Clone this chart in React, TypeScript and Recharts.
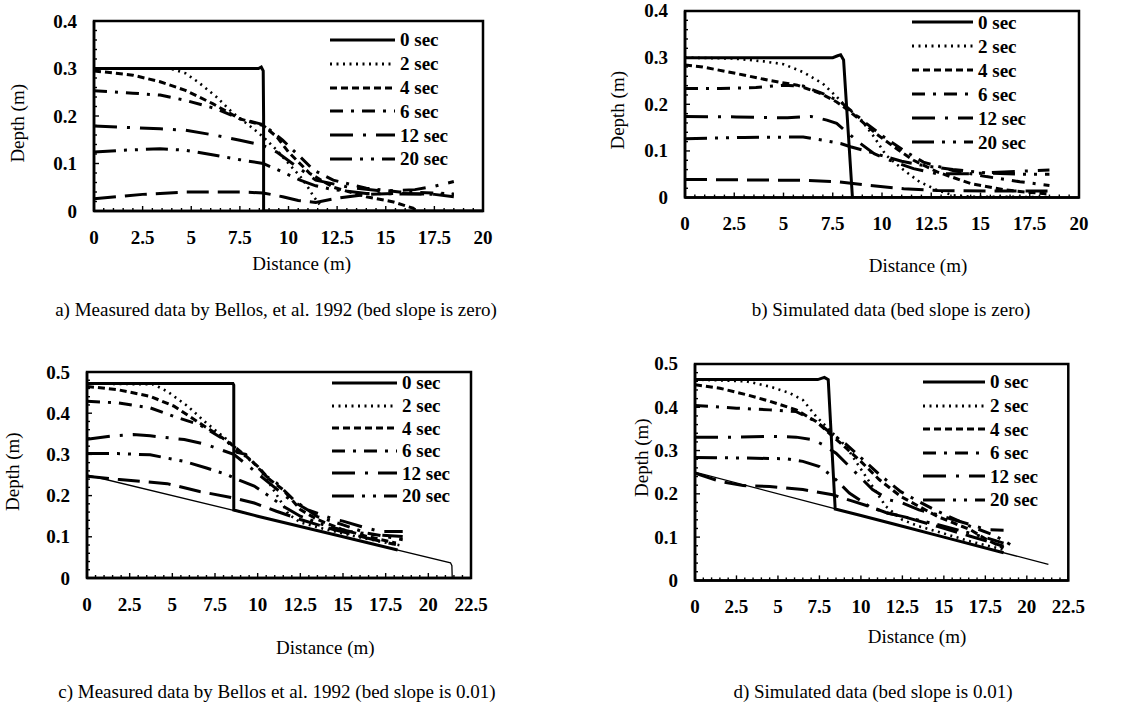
import React from "react";
import { LineChart, Line, XAxis, YAxis, ReferenceArea, Legend } from "recharts";

type Pair = [number, number];

const FONT = '"Liberation Serif", "Times New Roman", Times, serif';

// legend entries, in legend order
const seriesNames = ["0 sec", "2 sec", "4 sec", "6 sec", "12 sec", "20 sec"];

// major tick labels
const xMajor20 = [0, 2.5, 5, 7.5, 10, 12.5, 15, 17.5, 20];
const xMajor225 = [0, 2.5, 5, 7.5, 10, 12.5, 15, 17.5, 20, 22.5];
const yMajor04 = [0, 0.1, 0.2, 0.3, 0.4];
const yMajor05 = [0, 0.1, 0.2, 0.3, 0.4, 0.5];
const X_MINOR_STEP = 0.5;
const Y_MINOR_STEP = 0.02;

// ---- a) measured, bed slope zero ----
const aSec0: Pair[] = [[0, 0.3], [8.45, 0.3], [8.6, 0.303], [8.7, 0.295], [8.72, 0.2], [8.72, 0], [20, 0]];
const aSec2: Pair[] = [[0, 0.3], [3.9, 0.3], [4.7, 0.29], [5.4, 0.27], [6.3, 0.24], [7.1, 0.208], [8.2, 0.173], [8.7, 0.156], [9.4, 0.128], [10, 0.1], [10.6, 0.073], [11, 0.05], [11.3, 0.03], [11.6, 0.014]];
const aSec4: Pair[] = [[0, 0.295], [2, 0.286], [3.4, 0.272], [4.7, 0.254], [6.1, 0.226], [7.5, 0.194], [8.7, 0.18], [9.4, 0.156], [10, 0.124], [11.1, 0.079], [12.3, 0.05], [14, 0.03], [15.4, 0.019], [16.4, 0.006], [16.6, 0]];
const aSec6: Pair[] = [[0, 0.253], [2, 0.248], [3.4, 0.244], [4.7, 0.233], [6.3, 0.215], [7.5, 0.194], [8.7, 0.182], [9.7, 0.149], [10.6, 0.114], [11.3, 0.086], [12.3, 0.065], [14, 0.048], [15.7, 0.04], [17.4, 0.038], [18.5, 0.036]];
const aSec12: Pair[] = [[0, 0.179], [3.4, 0.173], [4.7, 0.17], [6.3, 0.159], [7.5, 0.149], [8.7, 0.138], [9.4, 0.124], [10.2, 0.1], [11.4, 0.065], [13.1, 0.05], [14.8, 0.042], [16.5, 0.045], [17.5, 0.052], [18.5, 0.062]];
const aSec20: Pair[] = [[0, 0.124], [1.5, 0.128], [3.4, 0.131], [4.7, 0.128], [6.3, 0.117], [7.5, 0.108], [8.7, 0.1], [9.7, 0.082], [10.6, 0.065], [11.4, 0.053], [12.3, 0.045], [14, 0.037], [15.7, 0.036], [18.5, 0.035]];
const aLate: Pair[] = [[0, 0.026], [2.5, 0.035], [4.7, 0.04], [7.5, 0.04], [8.7, 0.038], [9.7, 0.03], [10.5, 0.022], [11.4, 0.018], [12.5, 0.027], [14, 0.035], [15.7, 0.037], [17.5, 0.035], [18.5, 0.03]];

// ---- b) simulated, bed slope zero ----
const bSec0: Pair[] = [[0, 0.3], [7.5, 0.3], [7.75, 0.304], [7.9, 0.306], [8.05, 0.295], [8.5, 0], [18.5, 0]];
const bSec2: Pair[] = [[0, 0.3], [2.5, 0.298], [4, 0.292], [5, 0.286], [6, 0.269], [7, 0.244], [7.7, 0.216], [8.2, 0.194], [8.9, 0.169], [9.6, 0.13], [10.2, 0.091], [11.1, 0.059], [11.9, 0.034], [12.8, 0.016], [13.6, 0.005], [14.5, 0.002], [18.5, 0.001]];
const bSec4: Pair[] = [[0, 0.284], [0.9, 0.28], [2.6, 0.266], [4.3, 0.251], [5.7, 0.241], [6.9, 0.223], [7.7, 0.205], [8.2, 0.19], [8.9, 0.166], [9.7, 0.137], [10.6, 0.109], [11.6, 0.08], [12.8, 0.055], [14.5, 0.03], [16.2, 0.017], [17.5, 0.011], [18.5, 0.008]];
const bSec6: Pair[] = [[0, 0.234], [1.8, 0.234], [3.6, 0.236], [5, 0.241], [6, 0.239], [7, 0.223], [7.9, 0.205], [8.5, 0.184], [9.2, 0.159], [10.1, 0.13], [11.1, 0.101], [12.1, 0.076], [13.6, 0.058], [15.3, 0.045], [17, 0.034], [18.5, 0.026]];
const bSec12: Pair[] = [[0, 0.174], [2.6, 0.173], [5.2, 0.171], [6.4, 0.174], [7.2, 0.166], [7.7, 0.159], [8.2, 0.141], [8.9, 0.116], [9.6, 0.094], [10.4, 0.08], [11.6, 0.062], [12.8, 0.051], [14.5, 0.051], [16.2, 0.055], [18.5, 0.059]];
const bSec20: Pair[] = [[0, 0.126], [3, 0.129], [6, 0.13], [7, 0.123], [7.9, 0.116], [8.4, 0.109], [9.2, 0.1], [10, 0.09], [11, 0.078], [12.2, 0.068], [13.6, 0.06], [15.3, 0.053], [17, 0.05], [18.5, 0.05]];
const bLate: Pair[] = [[0, 0.039], [6, 0.037], [7.7, 0.034], [9.4, 0.026], [11.1, 0.019], [12.8, 0.015], [15.3, 0.014], [18.5, 0.014]];

// ---- c) measured, bed slope 0.01 ----
const cBed: Pair[] = [[0, 0.25], [21.3, 0.037], [21.38, 0.03], [21.4, 0]];
const cSec0: Pair[] = [[0, 0.472], [8.55, 0.472], [8.6, 0.468], [8.6, 0.165], [10, 0.15], [12.5, 0.125], [15, 0.1], [18.2, 0.068]];
const cSec2: Pair[] = [[0, 0.472], [3.9, 0.47], [4.7, 0.453], [5.9, 0.417], [7, 0.376], [8.2, 0.336], [8.6, 0.32], [9.4, 0.291], [10, 0.27], [10.6, 0.235], [11.3, 0.19], [11.8, 0.155], [12.5, 0.135], [14, 0.118], [15.5, 0.103], [17, 0.09], [18.5, 0.078]];
const cSec4: Pair[] = [[0, 0.465], [1.8, 0.457], [3.7, 0.441], [5.1, 0.417], [6.6, 0.376], [7.8, 0.344], [8.6, 0.32], [9.2, 0.3], [10, 0.271], [10.7, 0.239], [11.5, 0.214], [12.5, 0.166], [13.5, 0.142], [15, 0.117], [16.4, 0.101], [18.1, 0.085]];
const cSec6: Pair[] = [[0, 0.429], [1.8, 0.425], [3.7, 0.413], [5.1, 0.392], [6.6, 0.372], [8.2, 0.332], [8.8, 0.305], [9.3, 0.3], [10.5, 0.247], [11.1, 0.231], [12.1, 0.19], [13.5, 0.149], [15, 0.129], [16.4, 0.109], [18.5, 0.093]];
const cSec12: Pair[] = [[0, 0.337], [1.5, 0.345], [2.7, 0.348], [3.7, 0.345], [5.7, 0.336], [7, 0.324], [8.6, 0.3], [9.6, 0.267], [10.9, 0.223], [11.9, 0.19], [12.9, 0.166], [14.5, 0.142], [15, 0.138], [16.4, 0.121], [17.2, 0.113], [18.5, 0.113]];
const cSec20: Pair[] = [[0, 0.302], [1.8, 0.302], [3.7, 0.299], [5.7, 0.283], [7, 0.267], [8.2, 0.251], [8.6, 0.243], [9.8, 0.223], [10.7, 0.198], [11.5, 0.174], [12.5, 0.15], [14.1, 0.125], [15.4, 0.113], [16.8, 0.105], [18.5, 0.101]];
const cLate: Pair[] = [[0, 0.247], [1.9, 0.239], [4.7, 0.229], [6.6, 0.21], [8.6, 0.194], [9.8, 0.182], [11.1, 0.162], [12.5, 0.142], [14.5, 0.117], [16.4, 0.097], [18.1, 0.081]];

// ---- d) simulated, bed slope 0.01 ----
const dBed: Pair[] = [[0, 0.25], [21.3, 0.037]];
const dSec0: Pair[] = [[0, 0.464], [7.4, 0.464], [7.8, 0.469], [8.03, 0.464], [8.45, 0.165], [10, 0.15], [12.5, 0.125], [15, 0.1], [18.6, 0.064]];
const dSec2: Pair[] = [[0, 0.464], [3.1, 0.46], [4.5, 0.448], [5.7, 0.433], [6.5, 0.417], [7.3, 0.379], [8.1, 0.348], [9.1, 0.31], [9.9, 0.263], [10.7, 0.217], [11.5, 0.171], [12.5, 0.14], [13.5, 0.125], [14.6, 0.113], [16.6, 0.09], [18.6, 0.071]];
const dSec4: Pair[] = [[0, 0.452], [1.5, 0.444], [3.1, 0.429], [4.5, 0.414], [6.1, 0.394], [7.3, 0.367], [8.3, 0.333], [9.1, 0.306], [10.1, 0.271], [11.1, 0.233], [12.4, 0.194], [13.5, 0.171], [14.6, 0.148], [16.6, 0.117], [17.6, 0.094], [18.6, 0.075]];
const dSec6: Pair[] = [[0, 0.404], [2.5, 0.398], [4.5, 0.394], [6.1, 0.39], [7.3, 0.367], [8.3, 0.337], [9.1, 0.315], [10.1, 0.28], [11.1, 0.245], [12.4, 0.205], [13.5, 0.182], [14.6, 0.16], [16.6, 0.125], [18, 0.105], [19, 0.083]];
const dSec12: Pair[] = [[0, 0.331], [2.5, 0.331], [4.5, 0.333], [6.1, 0.331], [7.1, 0.325], [7.7, 0.314], [8.5, 0.294], [9.5, 0.256], [10.7, 0.21], [11.7, 0.186], [12.5, 0.179], [13.5, 0.163], [14.6, 0.152], [15.6, 0.14], [16.6, 0.129], [17.6, 0.117], [18.6, 0.116]];
const dSec20: Pair[] = [[0, 0.284], [2.5, 0.283], [5.5, 0.281], [6.5, 0.275], [7.5, 0.263], [8.3, 0.24], [9.3, 0.202], [10.5, 0.171], [11.5, 0.156], [12.5, 0.148], [14.6, 0.129], [16.6, 0.109], [17.6, 0.098], [18.6, 0.086]];
const dLate: Pair[] = [[0, 0.248], [1.5, 0.229], [2.9, 0.219], [4.5, 0.217], [6.5, 0.21], [8.3, 0.198], [9.5, 0.183], [10.5, 0.171], [11.5, 0.157], [12.5, 0.148], [14.6, 0.125], [16.6, 0.102], [18.6, 0.079]];

const lineStyles: Record<string, { dash?: string; width: number }> = {
  "0 sec": { width: 3 },
  "2 sec": { dash: "2 4.5", width: 2.6 },
  "4 sec": { dash: "7 4", width: 3 },
  "6 sec": { dash: "13 8 3 8", width: 3 },
  "12 sec": { dash: "23 10 3 10", width: 3 },
  "20 sec": { dash: "22 8 3 8 3 8", width: 3 },
};
const LATE_DASH = "22 9";

interface PanelCfg {
  left: number; // plot box, page coords
  top: number;
  w: number;
  h: number;
  xMajor: number[];
  yMajor: number[];
  series: Pair[][];
  late: Pair[];
  bed?: Pair[];
  legend: { x: number; y: number; rowH: number; lineLen: number };
  xTitle: [number, number];
  yTitle: [number, number];
  caption: string;
  capPos: [number, number];
}

const panels: PanelCfg[] = [
  {
    left: 94.3, top: 20.7, w: 389, h: 190, xMajor: xMajor20, yMajor: yMajor04,
    series: [aSec0, aSec2, aSec4, aSec6, aSec12, aSec20], late: aLate,
    legend: { x: 330, y: 40, rowH: 23.8, lineLen: 65 },
    xTitle: [302, 263], yTitle: [18, 123],
    caption: "a) Measured data by Bellos, et al. 1992 (bed slope is zero)", capPos: [276, 310],
  },
  {
    left: 685, top: 10.7, w: 394, h: 186.6, xMajor: xMajor20, yMajor: yMajor04,
    series: [bSec0, bSec2, bSec4, bSec6, bSec12, bSec20], late: bLate,
    legend: { x: 912, y: 22, rowH: 24, lineLen: 61 },
    xTitle: [918, 265], yTitle: [617, 110],
    caption: "b) Simulated data (bed slope is zero)", capPos: [891, 310],
  },
  {
    left: 86.7, top: 372.3, w: 384, h: 206, xMajor: xMajor225, yMajor: yMajor05,
    series: [cSec0, cSec2, cSec4, cSec6, cSec12, cSec20], late: cLate, bed: cBed,
    legend: { x: 332, y: 383, rowH: 22.6, lineLen: 65 },
    xTitle: [325, 648], yTitle: [12, 472],
    caption: "c) Measured data by Bellos et al. 1992 (bed slope is 0.01)", capPos: [277, 692],
  },
  {
    left: 695, top: 364.3, w: 373.3, h: 216.4, xMajor: xMajor225, yMajor: yMajor05,
    series: [dSec0, dSec2, dSec4, dSec6, dSec12, dSec20], late: dLate, bed: dBed,
    legend: { x: 923, y: 382, rowH: 23.6, lineLen: 62 },
    xTitle: [917, 637], yTitle: [642, 458],
    caption: "d) Simulated data (bed slope is 0.01)", capPos: [873, 692],
  },
];

const AX_W = 90;
const AX_H = 90;
const TOP_M = 15;
const RIGHT_M = 45;

const toPoints = (arr: Pair[]) => arr.map(([x, y]) => ({ x, y }));

const stepTicks = (max: number, step: number) =>
  Array.from({ length: Math.round(max / step) + 1 }, (_, i) => +(i * step).toFixed(4));

const isMajor = (v: number, majors: number[]) => majors.some((m) => Math.abs(m - v) < 1e-6);

const makeXTick = (majors: number[]) => (props: any) => {
  const { x, y, payload } = props;
  const major = isMajor(payload.value, majors);
  return (
    <g>
      <line x1={x} x2={x} y1={y} y2={y - (major ? 5 : 3)} stroke="#000" strokeWidth={1.4} />
      {major && (
        <text x={x} y={y + 26} textAnchor="middle" dominantBaseline="central" fontFamily={FONT} fontWeight="bold" fontSize={19} fill="#000">
          {String(payload.value)}
        </text>
      )}
    </g>
  );
};

const makeYTick = (majors: number[]) => (props: any) => {
  const { x, y, payload } = props;
  const major = isMajor(payload.value, majors);
  return (
    <g>
      <line x1={x} x2={x + (major ? 5 : 3)} y1={y} y2={y} stroke="#000" strokeWidth={1.4} />
      {major && (
        <text x={x - 17} y={y} textAnchor="end" dominantBaseline="central" fontFamily={FONT} fontWeight="bold" fontSize={19} fill="#000">
          {String(payload.value)}
        </text>
      )}
    </g>
  );
};

function Panel({ p }: { p: PanelCfg }) {
  const chartLeft = p.left - AX_W;
  const chartTop = p.top - TOP_M;
  const width = p.w + AX_W + RIGHT_M;
  const height = p.h + TOP_M + AX_H;
  const xMax = p.xMajor[p.xMajor.length - 1];
  const yMax = p.yMajor[p.yMajor.length - 1];
  const xt = p.xTitle[0] - chartLeft;
  const yt = p.xTitle[1] - chartTop;
  const yx = p.yTitle[0] - chartLeft;
  const yy = p.yTitle[1] - chartTop;
  const lg = p.legend;

  const legendContent = () => (
    <div>
      {seriesNames.map((name) => (
        <div key={name} style={{ height: lg.rowH, display: "flex", alignItems: "center", whiteSpace: "nowrap" }}>
          <svg width={lg.lineLen} height={6} style={{ display: "block" }}>
            <line x1={0} x2={lg.lineLen} y1={3} y2={3} stroke="#000" strokeWidth={lineStyles[name].width + 0.2} strokeDasharray={lineStyles[name].dash} />
          </svg>
          <span style={{ marginLeft: 5, fontFamily: FONT, fontWeight: "bold", fontSize: 19, lineHeight: 1, color: "#000" }}>{name}</span>
        </div>
      ))}
    </div>
  );

  return (
    <>
      <div style={{ position: "absolute", left: chartLeft, top: chartTop }}>
        <LineChart width={width} height={height} margin={{ top: TOP_M, right: RIGHT_M, left: 0, bottom: 0 }}>
          <XAxis
            type="number"
            dataKey="x"
            domain={[0, xMax]}
            ticks={stepTicks(xMax, X_MINOR_STEP)}
            interval={0}
            allowDataOverflow
            tick={makeXTick(p.xMajor)}
            tickLine={false}
            tickSize={0}
            tickMargin={0}
            height={AX_H}
            axisLine={{ stroke: "#000", strokeWidth: 2.5 }}
            label={{
              content: () => (
                <text x={xt} y={yt} textAnchor="middle" dominantBaseline="central" fontFamily={FONT} fontSize={19} fill="#000">
                  Distance (m)
                </text>
              ),
            }}
          />
          <YAxis
            type="number"
            domain={[0, yMax]}
            ticks={stepTicks(yMax, Y_MINOR_STEP)}
            interval={0}
            allowDataOverflow
            tick={makeYTick(p.yMajor)}
            tickLine={false}
            tickSize={0}
            tickMargin={0}
            width={AX_W}
            axisLine={{ stroke: "#000", strokeWidth: 2.5 }}
            label={{
              content: () => (
                <text x={yx} y={yy} transform={`rotate(-90, ${yx}, ${yy})`} textAnchor="middle" dominantBaseline="central" fontFamily={FONT} fontSize={19} fill="#000">
                  Depth (m)
                </text>
              ),
            }}
          />
          <ReferenceArea x1={0} x2={xMax} y1={0} y2={yMax} fill="none" stroke="#000" strokeWidth={2.5} ifOverflow="visible" />
          {p.bed && (
            <Line data={toPoints(p.bed)} dataKey="y" name="bed" stroke="#000" strokeWidth={1.3} dot={false} activeDot={false} legendType="none" isAnimationActive={false} />
          )}
          <Line data={toPoints(p.late)} dataKey="y" name="late" stroke="#000" strokeWidth={3} strokeDasharray={LATE_DASH} dot={false} activeDot={false} legendType="none" isAnimationActive={false} />
          {p.series.map((s, i) => {
            const st = lineStyles[seriesNames[i]];
            return (
              <Line
                key={seriesNames[i]}
                data={toPoints(s)}
                dataKey="y"
                name={seriesNames[i]}
                stroke="#000"
                strokeWidth={st.width}
                strokeDasharray={st.dash}
                dot={false}
                activeDot={false}
                isAnimationActive={false}
              />
            );
          })}
          <Legend
            layout="vertical"
            align="center"
            verticalAlign="middle"
            wrapperStyle={{ left: lg.x - chartLeft, top: lg.y - lg.rowH / 2 - chartTop }}
            content={legendContent}
          />
        </LineChart>
      </div>
      <div
        style={{
          position: "absolute",
          left: p.capPos[0] - 300,
          top: p.capPos[1] - 12,
          width: 600,
          textAlign: "center",
          fontFamily: FONT,
          fontSize: 19,
          lineHeight: "24px",
          whiteSpace: "nowrap",
          color: "#000",
        }}
      >
        {p.caption}
      </div>
    </>
  );
}

export default function App() {
  return (
    <div style={{ position: "absolute", left: 0, top: 0, width: 1146, height: 704, background: "#fff", overflow: "hidden" }}>
      {panels.map((p, i) => (
        <Panel key={i} p={p} />
      ))}
    </div>
  );
}
